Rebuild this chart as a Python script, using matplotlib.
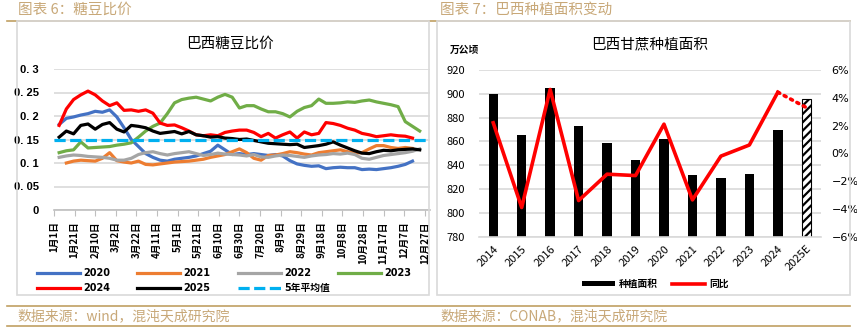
import matplotlib
matplotlib.use("Agg")
import matplotlib.pyplot as plt
import numpy as np
from matplotlib.patches import Rectangle
from matplotlib.lines import Line2D

plt.rcParams['font.family'] = ['Noto Sans CJK SC', 'DejaVu Sans']
plt.rcParams['axes.unicode_minus'] = True
plt.rcParams['hatch.linewidth'] = 1.6

# ---------------- Left chart data ----------------
days = [5, 12, 19, 26, 33, 40, 47, 54, 61, 68, 75, 82, 89, 96, 103, 110, 117, 124, 131, 138,
        145, 152, 159, 166, 173, 180, 187, 194, 201, 208, 215, 222, 229, 236, 243, 250, 257,
        264, 271, 278, 285, 292, 299, 306, 313, 320, 327, 334, 341, 348, 355]
nan = float('nan')
s2020 = [0.182, 0.195, 0.198, 0.202, 0.205, 0.210, 0.208, 0.213, 0.198, 0.175, 0.150, 0.135, 0.120,
         0.112, 0.106, 0.104, 0.108, 0.110, 0.112, 0.115, 0.120, 0.125, 0.138, 0.128, 0.118, 0.120,
         0.118, 0.120, 0.118, 0.116, 0.118, 0.115, 0.105, 0.098, 0.095, 0.093, 0.094, 0.088, 0.090,
         0.091, 0.090, 0.090, 0.086, 0.087, 0.086, 0.088, 0.090, 0.093, 0.097, 0.104, nan]
s2021 = [nan, 0.100, 0.104, 0.106, 0.105, 0.104, 0.110, 0.122, 0.105, 0.102, 0.100, 0.104, 0.097,
         0.096, 0.098, 0.100, 0.102, 0.103, 0.104, 0.106, 0.108, 0.112, 0.115, 0.118, 0.124, 0.130,
         0.122, 0.110, 0.106, 0.116, 0.117, 0.120, 0.124, 0.122, 0.119, 0.117, 0.122, 0.124, 0.126,
         0.128, 0.124, 0.121, 0.122, 0.130, 0.137, 0.137, 0.133, 0.131, 0.133, 0.131, nan]
s2022 = [0.112, 0.115, 0.117, 0.116, 0.114, 0.113, 0.112, 0.110, 0.106, 0.106, 0.110, 0.118, 0.122,
         0.124, 0.120, 0.117, 0.120, 0.122, 0.124, 0.120, 0.116, 0.118, 0.121, 0.119, 0.118, 0.117,
         0.115, 0.118, 0.113, 0.112, 0.115, 0.117, 0.116, 0.114, 0.112, 0.115, 0.117, 0.118, 0.120,
         0.119, 0.121, 0.118, 0.110, 0.108, 0.112, 0.116, 0.118, 0.120, 0.122, 0.125, 0.130]
s2023 = [0.122, 0.126, 0.128, 0.145, 0.132, 0.133, 0.134, 0.135, 0.138, 0.140, 0.143, 0.155, 0.168,
         0.178, 0.185, 0.205, 0.228, 0.235, 0.238, 0.240, 0.236, 0.232, 0.240, 0.246, 0.240, 0.217,
         0.222, 0.222, 0.215, 0.209, 0.209, 0.205, 0.198, 0.210, 0.218, 0.222, 0.236, 0.227, 0.227,
         0.228, 0.230, 0.229, 0.232, 0.234, 0.230, 0.227, 0.224, 0.220, 0.188, 0.178, 0.168]
s2024 = [0.180, 0.215, 0.235, 0.245, 0.253, 0.245, 0.232, 0.222, 0.228, 0.212, 0.213, 0.210, 0.213,
         0.206, 0.185, 0.180, 0.181, 0.175, 0.168, 0.160, 0.158, 0.160, 0.158, 0.165, 0.168, 0.170,
         0.170, 0.165, 0.156, 0.163, 0.153, 0.160, 0.166, 0.153, 0.166, 0.160, 0.163, 0.186, 0.184,
         0.180, 0.174, 0.170, 0.163, 0.160, 0.156, 0.158, 0.160, 0.158, 0.157, 0.153, nan]
s2025 = [0.155, 0.168, 0.162, 0.180, 0.183, 0.172, 0.182, 0.186, 0.172, 0.166, 0.180, 0.178, 0.175,
         0.168, 0.163, 0.165, 0.167, 0.162, 0.167, 0.160, 0.158, 0.155, 0.156, 0.153, 0.152, 0.150,
         0.151, 0.148, 0.145, 0.142, 0.141, 0.140, 0.139, 0.140, 0.133, 0.135, 0.137, 0.140, 0.145,
         0.138, 0.132, 0.126, 0.121, 0.120, 0.124, 0.127, 0.126, 0.128, 0.129, 0.130, 0.128]
avg5 = 0.148
series_names = ['2020', '2021', '2022', '2023', '2024', '2025']
series_vals = [s2020, s2021, s2022, s2023, s2024, s2025]
series_colors = ['#4472C4', '#ED7D31', '#A5A5A5', '#70AD47', '#FF0000', '#000000']
xtick_days = list(range(0, 361, 20))
xtick_labels = ['1月1日', '1月21日', '2月10日', '3月2日', '3月22日', '4月11日', '5月1日', '5月21日',
                '6月10日', '6月30日', '7月20日', '8月9日', '8月29日', '9月18日', '10月8日',
                '10月28日', '11月17日', '12月7日', '12月27日']
ytick_vals = [0, 0.05, 0.1, 0.15, 0.2, 0.25, 0.3]
ytick_labels = ['0', '0. 05', '0. 1', '0. 15', '0. 2', '0. 25', '0. 3']

# ---------------- Right chart data ----------------
years = ['2014', '2015', '2016', '2017', '2018', '2019', '2020', '2021', '2022', '2023', '2024', '2025E']
area = [900, 865, 905, 873, 859, 844, 862, 832, 829, 833, 870, 896]
yoy = [2.2, -3.9, 4.6, -3.4, -1.5, -1.6, 2.1, -3.35, -0.2, 0.6, 4.4, 3.3]

W, H = 857, 327
fig = plt.figure(figsize=(W / 100, H / 100), dpi=100)

def fx(px):
    return px / W

def fy(py):
    return 1 - py / H

tan = '#C0A062'
# header / footer decorations
fig.add_artist(Line2D([fx(7), fx(850)], [fy(21), fy(21)], color=tan, lw=1.2, zorder=1))
fig.add_artist(Line2D([fx(7), fx(850)], [fy(305.5), fy(305.5)], color=tan, lw=1.2, zorder=1))
fig.add_artist(Line2D([fx(7), fx(850)], [fy(325.5), fy(325.5)], color=tan, lw=1.2, zorder=1))
fig.add_artist(Rectangle((fx(17), fy(295)), fx(429) - fx(17), fy(21) - fy(295), fill=False,
                         edgecolor='#D9D9D9', lw=1.2, zorder=2))
fig.add_artist(Rectangle((fx(437), fy(295)), fx(850) - fx(437), fy(21) - fy(295), fill=False,
                         edgecolor='#D9D9D9', lw=1.2, zorder=2))
fig.text(fx(18), fy(10), '图表 6：糖豆比价', color='#C8A878', fontsize=10.5, va='center', ha='left')
fig.text(fx(440), fy(10), '图表 7：巴西种植面积变动', color='#C8A878', fontsize=10.5, va='center', ha='left')
fig.text(fx(17), fy(316), '数据来源：wind，混沌天成研究院', color='#C8A878', fontsize=10, va='center', ha='left')
fig.text(fx(440), fy(316), '数据来源：CONAB，混沌天成研究院', color='#C8A878', fontsize=10, va='center', ha='left')

# ---------------- Left chart ----------------
ax1 = fig.add_axes([fx(54), fy(210), fx(430) - fx(54), fy(69) - fy(210)])
handles = []
for name, vals, col in zip(series_names, series_vals, series_colors):
    h, = ax1.plot(days, vals, color=col, lw=2.3, label=name, solid_joinstyle='round')
    handles.append(h)
h_avg = ax1.axhline(avg5, color='#00B0F0', lw=2.3, dashes=(3.5, 1.4), label='5年平均值')
handles.append(h_avg)
ax1.set_xlim(0, 365)
ax1.set_ylim(0, 0.3)
ax1.set_yticks(ytick_vals)
ax1.set_yticklabels(ytick_labels, fontsize=8, fontweight='bold', family='Liberation Sans')
ax1.set_xticks(xtick_days)
ax1.set_xticklabels(xtick_labels, rotation=90, fontsize=7, fontweight='bold')
ax1.tick_params(axis='y', length=0, pad=11)
ax1.tick_params(axis='x', length=4, color='#BFBFBF', pad=4)
ax1.grid(axis='y', color='#D9D9D9', lw=1.2)
ax1.set_axisbelow(True)
for s in ['left', 'right', 'top']:
    ax1.spines[s].set_visible(False)
ax1.spines['bottom'].set_color('#BFBFBF')
ax1.spines['bottom'].set_linewidth(1.2)
fig.text(fx(230), fy(44), '巴西糖豆比价', fontsize=10.5, ha='center', va='center')

leg_kw = dict(ncol=4, frameon=False, handlelength=4.4, handletextpad=0.35, columnspacing=2.8,
              prop={'size': 7, 'weight': 'bold', 'family': ['DejaVu Sans', 'Noto Sans CJK SC']},
              loc='center left', bbox_transform=fig.transFigure, borderpad=0, borderaxespad=0)
leg1 = ax1.legend(handles=handles[:4], bbox_to_anchor=(fx(37), fy(273)), **leg_kw)
ax1.add_artist(leg1)
ax1.legend(handles=handles[4:], bbox_to_anchor=(fx(37), fy(288)), **leg_kw)

# ---------------- Right chart ----------------
ax2 = fig.add_axes([fx(479), fy(236.7), fx(820.5) - fx(479), fy(70) - fy(236.7)])
xpos = np.arange(len(years))
bars = ax2.bar(xpos[:-1], area[:-1], width=0.33, color='black', label='种植面积', zorder=2)
ax2.bar(xpos[-1:], area[-1:], width=0.33, facecolor='white', edgecolor='black', hatch='////',
        lw=0.8, zorder=2)
ax2.set_ylim(780, 920)
ax2.set_yticks(range(780, 921, 20))
ax2.set_xlim(-0.5, len(years) - 0.5)
ax2.set_xticks(xpos)
ax2.set_xticklabels(years, rotation=45, ha='right', va='top', rotation_mode='anchor', fontsize=8)
ax2.tick_params(axis='both', length=0, labelsize=8)
ax2.tick_params(axis='y', pad=10)
ax2.tick_params(axis='x', pad=5)
ax2.grid(axis='y', color='#D9D9D9', lw=1.2)
ax2.set_axisbelow(True)
for s in ['left', 'right', 'top']:
    ax2.spines[s].set_visible(False)
ax2.spines['bottom'].set_color('#D9D9D9')
ax2.spines['bottom'].set_linewidth(1.2)

ax3 = ax2.twinx()
line, = ax3.plot(xpos[:-1], yoy[:-1], color='#FF0000', lw=2.6, label='同比', zorder=3)
ax3.plot(xpos[-2:], yoy[-2:], color='#FF0000', lw=2.6, ls=(0, (0.6, 1.4)), dash_capstyle='round', zorder=3)
ax3.set_ylim(-6, 6)
ax3.set_yticks(range(-6, 7, 2))
ax3.set_yticklabels([f"{v}%".replace('-', '\u2212') for v in range(-6, 7, 2)], fontsize=8,
                    family='DejaVu Sans')
ax3.tick_params(axis='y', length=0, pad=8)
for s in ['left', 'right', 'top', 'bottom']:
    ax3.spines[s].set_visible(False)

fig.text(fx(650), fy(44), '巴西甘蔗种植面积', fontsize=10.5, ha='center', va='center')
fig.text(fx(450), fy(50), '万公顷', fontsize=7, fontweight='bold', ha='left', va='center')
ax3.legend(handles=[bars, line], labels=['种植面积', '同比'], ncol=2, frameon=False,
           loc='center', bbox_to_anchor=(fx(655), fy(284)), bbox_transform=fig.transFigure,
           handlelength=3.4, handleheight=0.5, handletextpad=0.4, columnspacing=1.5,
           prop={'size': 7, 'weight': 'bold'})

fig.savefig('out.png', dpi=100)
